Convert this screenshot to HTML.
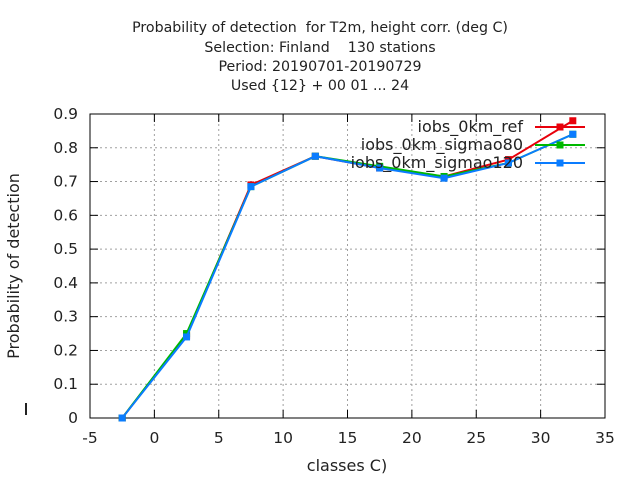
<!DOCTYPE html>
<html><head><meta charset="utf-8"><style>
body{margin:0;background:#fff;}
svg text{font-family:"DejaVu Sans","Liberation Sans",sans-serif;font-size:16px;fill:#222;white-space:pre;}
svg .t{font-size:14.2px;}
svg .tk{font-size:15.5px;}
</style></head><body>
<svg width="640" height="480" xmlns="http://www.w3.org/2000/svg">
<g text-anchor="middle">
<text class="t" x="320" y="32">Probability of detection  for T2m, height corr. (deg C)</text>
<text class="t" x="320" y="52">Selection: Finland    130 stations</text>
<text class="t" x="320" y="71">Period: 20190701-20190729</text>
<text class="t" x="320" y="90">Used {12} + 00 01 ... 24</text>
</g>
<g id="grid"></g>
<g id="axes"></g>
<g id="series"></g>
<g id="legend"></g>
<text x="347" y="471" text-anchor="middle">classes C)</text>
<text transform="translate(19,266) rotate(-90)" text-anchor="middle">Probability of detection</text>
<rect x="25" y="403" width="2" height="12" fill="#222"/>
</svg>
<script>
const categories=[-2.5,2.5,7.5,12.5,17.5,22.5,27.5,32.5];
const seriesNames=["iobs_0km_ref","iobs_0km_sigmao80","iobs_0km_sigmao120"];
const refValues=[0,0.245,0.69,0.775,0.74,0.715,0.765,0.88];
const sigmao80Values=[0,0.25,0.685,0.775,0.745,0.715,0.755,0.84];
const sigmao120Values=[0,0.24,0.685,0.775,0.74,0.71,0.755,0.84];
const xTicks=[-5,0,5,10,15,20,25,30,35];
const yTicks=[0,0.1,0.2,0.3,0.4,0.5,0.6,0.7,0.8,0.9];
const colors=["#e8000b","#00b800","#0a7cff"];
const L=90,R=605,T=114,B=418;
const xs=v=>L+(v+5)/40*(R-L);
const ys=v=>B-v/0.9*(B-T);
const NS="http://www.w3.org/2000/svg";
function mk(tag,attrs,parent){const e=document.createElementNS(NS,tag);for(const k in attrs)e.setAttribute(k,attrs[k]);parent.appendChild(e);return e;}
const grid=document.getElementById('grid'),axes=document.getElementById('axes');
xTicks.forEach(t=>{const x=xs(t);
 if(t>-5&&t<35){const g=mk('line',{x1:x,x2:x,y1:T,y2:B,stroke:'#a0a0a0','stroke-dasharray':'2,3'},grid);}
 const tk=mk('line',{x1:x,x2:x,y1:B,y2:B-8,stroke:'#000','stroke-width':1},axes);
 const tk2=mk('line',{x1:x,x2:x,y1:T,y2:T+8,stroke:'#000'},axes);
 const tx=mk('text',{x:x,y:443,'text-anchor':'middle','class':'tk'},axes);tx.textContent=t;
});
yTicks.forEach(t=>{const y=ys(t);
 if(t>0&&t<0.9){const g=mk('line',{x1:L,x2:R,y1:y,y2:y,stroke:'#a0a0a0','stroke-dasharray':'2,3'},grid);}
 const tk=mk('line',{x1:L,x2:L+8,y1:y,y2:y,stroke:'#000'},axes);
 const tk2=mk('line',{x1:R,x2:R-8,y1:y,y2:y,stroke:'#000'},axes);
 const tx=mk('text',{x:78,y:y+5,'text-anchor':'end','class':'tk'},axes);tx.textContent=(t===0?'0':t.toFixed(1));
});
const fr=mk('rect',{x:L,y:T,width:R-L,height:B-T,fill:'none',stroke:'#000'},axes);

const ser=document.getElementById('series'),leg=document.getElementById('legend');
[refValues,sigmao80Values,sigmao120Values].forEach((vals,i)=>{
 const pts=categories.map((c,j)=>xs(c)+','+ys(vals[j])).join(' ');
 const pl=mk('polyline',{points:pts,fill:'none',stroke:colors[i],'stroke-width':2},ser);
 
 categories.forEach((c,j)=>{const p=mk('rect',{x:xs(c)-3.5,y:ys(vals[j])-3.5,width:7,height:7,fill:colors[i]},ser);
  });
 const ly=127+i*18;
 const lt=mk('text',{x:523,y:ly+5,'text-anchor':'end'},leg);lt.textContent=seriesNames[i];
 
 const ll=mk('line',{x1:535,x2:585,y1:ly,y2:ly,stroke:colors[i],'stroke-width':2},leg);
 
 const lp=mk('rect',{x:556.5,y:ly-3.5,width:7,height:7,fill:colors[i]},leg);
 
});
</script>
</body></html>
